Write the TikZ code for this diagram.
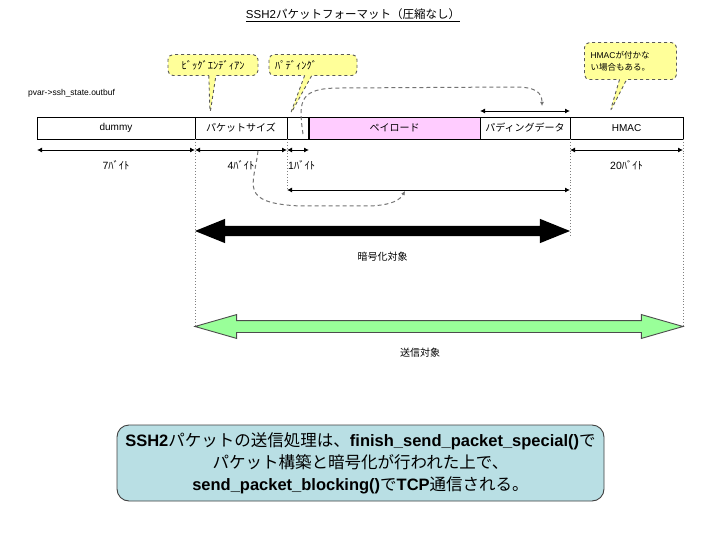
\documentclass[tikz,border=0pt]{standalone}
\usepackage{fontspec}
\setmainfont{Liberation Sans}
\newfontfamily\jfont{Noto Sans CJK JP}
\usetikzlibrary{shapes, shapes.callouts, shapes.arrows, arrows.meta, positioning, calc}
\definecolor{payloadpink}{RGB}{255,204,255}
\definecolor{balloonyellow}{RGB}{255,255,153}
\definecolor{sendgreen}{RGB}{153,255,153}
\definecolor{summarycyan}{RGB}{185,223,228}
\tikzstyle{field} = [rectangle, draw=black, line width=0.9pt, minimum height=22, inner sep=0pt, outer sep=0pt, text centered, font=\fontsize{10}{12}\selectfont]
\tikzstyle{balloon} = [rectangle callout, rounded corners=5pt, draw=black!65, dashed, line width=0.9pt, fill=balloonyellow, font=\fontsize{10.5}{11}\selectfont, align=left, inner ysep=0pt]
\tikzstyle{dim} = [line width=0.9pt, {Latex[length=5pt,width=5pt]}-{Latex[length=5pt,width=5pt]}]
\tikzstyle{guide} = [draw=black!50, dotted, line width=0.9pt]
\tikzstyle{hint} = [draw=black!55, dashed, line width=1pt, dash pattern=on 4pt off 3pt, -{Latex[length=4pt,width=4pt]}]
\tikzstyle{note} = [font=\fontsize{10.5}{11}\selectfont, inner sep=1pt]
\tikzstyle{bigarrow} = [double arrow, inner sep=0pt, outer sep=0pt, text depth=0pt, double arrow head indent=0pt]
\tikzstyle{summarybox} = [rectangle, rounded corners=12pt, draw=black!75, line width=0.9pt, fill=summarycyan, minimum width=487, minimum height=76, align=center, font=\fontsize{16.5}{22}\selectfont]

\begin{document}
\begin{tikzpicture}[x=1pt, y=-1pt]
\useasboundingbox (0,0) rectangle (720,540);
\node (title) [font=\fontsize{11.5}{13}\selectfont] at (353,15) {\underline{SSH2{\jfont パケットフォーマット（圧縮なし）}}};
\node (bufname) [font=\fontsize{8.5}{10}\selectfont, inner sep=1pt, anchor=west] at (27,93) {pvar->ssh\_state.outbuf};
\node (dummy) [field, minimum width=158] at (116,128) {dummy};
\node (pktsize) [field, minimum width=92, right=0pt of dummy] {\jfont パケットサイズ};
\node (padlen) [field, minimum width=22, right=0pt of pktsize] {};
\node (payload) [field, minimum width=171, fill=payloadpink, right=0pt of padlen] {\jfont ペイロード};
\node (paddata) [field, minimum width=90, right=0pt of payload] {\jfont パディングデータ};
\node (hmac) [field, minimum width=113, right=0pt of paddata] {HMAC};
\draw[line width=2pt] (payload.north west) -- (payload.south west);
\coordinate (tipA) at ([xshift=15,yshift=3]pktsize.north west);
\coordinate (tipB) at ([xshift=3,yshift=2]padlen.north west);
\coordinate (tipC) at ([xshift=40,yshift=5]hmac.north west);
\node (bigendian) [balloon, minimum width=90, minimum height=21, above=41pt of pktsize, xshift=-28pt, callout absolute pointer=(tipA)] {\jfont ﾋﾞｯｸﾞｴﾝﾃﾞｨｱﾝ};
\node (padding) [balloon, text width=76, inner xsep=6pt, minimum height=21, above=41pt of padlen, xshift=15pt, callout absolute pointer=(tipB)] {\jfont ﾊﾟﾃﾞｨﾝｸﾞ};
\node (nohmac) [balloon, font=\fontsize{8.5}{12}\selectfont, text width=80, inner xsep=6pt, minimum height=37, above=37pt of hmac, xshift=4pt, callout absolute pointer=(tipC)] {HMAC{\jfont が付かな}\\{\jfont い場合もある。}};
\coordinate (d0) at ([yshift=-11]dummy.south west);
\coordinate (d1) at ([yshift=-11]dummy.south east);
\coordinate (d2) at ([yshift=-11]pktsize.south east);
\coordinate (d3) at ([yshift=-11]padlen.south east);
\coordinate (d4) at ([yshift=-11]hmac.south west);
\coordinate (d5) at ([yshift=-11]hmac.south east);
\coordinate (pL) at ([yshift=-51]padlen.south west);
\coordinate (pR) at ([yshift=-51]hmac.south west);
\coordinate (q0) at ([yshift=6]paddata.north west);
\coordinate (q1) at ([yshift=6]paddata.north east);
\draw[dim] (d0) -- node[note, below=9pt] (len7) {7{\jfont ﾊﾞｲﾄ}} (d1);
\draw[dim] (d1) -- node[note, below=9pt] (len4) {4{\jfont ﾊﾞｲﾄ}} (d2);
\draw[dim] (d2) -- (d3);
\node (len1) [note, below=9pt of d2, anchor=north west] {1{\jfont ﾊﾞｲﾄ}};
\draw[dim] (d4) -- node[note, below=9pt] (len20) {20{\jfont ﾊﾞｲﾄ}} (d5);
\draw[dim] (pL) -- (pR);
\draw[dim] (q0) -- (q1);
\node (encarrow) [bigarrow, fill=black, minimum height=375, text height=10pt, double arrow head extend=7pt, double arrow tip angle=44] at (382.5,231) {};
\node (enclabel) [note, font=\fontsize{10}{11}\selectfont, below=15pt of encarrow] {\jfont 暗号化対象};
\node (sendarrow) [bigarrow, draw=black!70, line width=0.9pt, fill=sendgreen, minimum height=488, text height=11pt, double arrow head extend=6pt, double arrow tip angle=32] at (439,326.5) {};
\node (sendlabel) [note, font=\fontsize{10}{11}\selectfont, below=14pt of sendarrow, xshift=-19pt] {\jfont 送信対象};
\draw[guide] (pktsize.south west) -- (pktsize.south west |- sendarrow.west);
\draw[guide] (padlen.south west) -- (pL);
\draw[guide] (hmac.south west) -- (hmac.south west |- encarrow.south);
\draw[guide] (hmac.south east) -- (hmac.south east |- sendarrow.east);
\coordinate (a0) at ([xshift=-6,yshift=5]padlen.south east);
\coordinate (a1) at ([xshift=62,yshift=11]paddata.north west);
\coordinate (b0) at (258,151);
\coordinate (b1) at (405,191);
\draw[hint] (a0) .. controls (298,100) and (300,88) .. (340,88) -- (515,87) .. controls (535,87) and (542,92) .. (a1);
\draw[hint] (b0) .. controls (254,185) and (238,203) .. (300,206) -- (370,206) .. controls (392,205) and (400,200) .. (b1);
\node (summary) [summarybox] at (360.5,463) {{\bfseries SSH2}{\jfont パケットの送信処理は、}{\bfseries finish\_send\_packet\_special()}{\jfont で}\\{\jfont パケット構築と暗号化が行われた上で、}\\{\bfseries send\_packet\_blocking()}{\jfont で}{\bfseries TCP}{\jfont 通信される。}};
\end{tikzpicture}
\end{document}
